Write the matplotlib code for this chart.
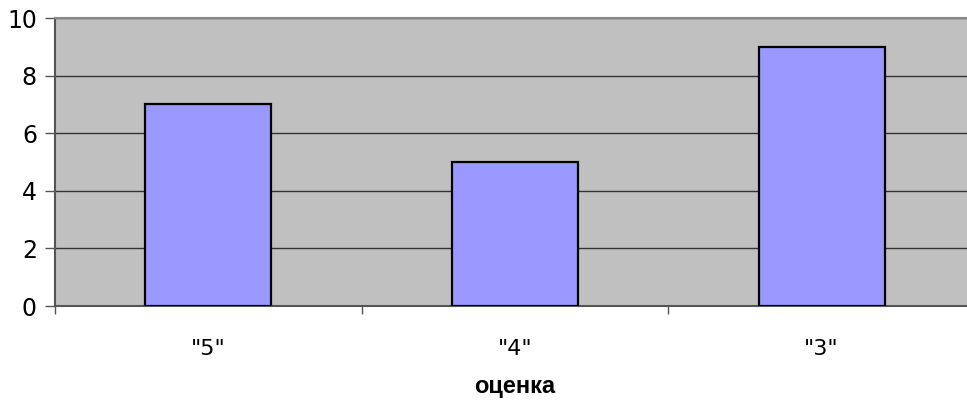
import matplotlib
matplotlib.use("Agg")
import matplotlib.pyplot as plt
import numpy as np

categories = ['"5"', '"4"', '"3"']
counts = [7, 5, 9]
y_ticks = [0, 2, 4, 6, 8, 10]
x_title = "оценка"

fig = plt.figure(figsize=(9.67, 4.04), dpi=100)
# plot area runs past the right edge of the canvas
ax = fig.add_axes([55 / 967, 1 - 306 / 404, 920 / 967, 288 / 404])
ax.set_facecolor("#C0C0C0")

x = np.arange(len(categories))
ax.bar(x, counts, width=0.41, color="#9999FF", edgecolor="black", linewidth=1.6, zorder=3)

ax.set_xlim(-0.5, len(categories) - 0.5)
ax.set_ylim(0, 10)
ax.set_yticks(y_ticks)
ax.set_yticklabels([str(v) for v in y_ticks], fontsize=17, fontfamily="DejaVu Sans")
ax.yaxis.grid(True, color="#333333", linewidth=1.0, zorder=1)
ax.set_axisbelow(True)

# category ticks sit on the boundaries between groups
ax.set_xticks(np.arange(-0.5, len(categories) + 0.5, 1.0))
ax.set_xticklabels([])
ax.set_xticks(x, minor=True)
ax.set_xticklabels(categories, minor=True, fontsize=16, fontfamily="DejaVu Sans")
ax.tick_params(axis="x", which="minor", length=0, pad=24)
ax.tick_params(axis="x", which="major", length=6, width=1, color="#555555")
ax.tick_params(axis="y", length=7, width=1, color="#555555", pad=6)

for side in ["left", "bottom"]:
    ax.spines[side].set_color("#555555")
    ax.spines[side].set_linewidth(1.5)
ax.spines["top"].set_color("#888888")
ax.spines["top"].set_linewidth(1.5)
ax.spines["right"].set_visible(False)

fig.text(515 / 967, 1 - 386 / 404, x_title, ha="center", va="center",
         fontsize=17, fontweight="bold", fontfamily="Liberation Sans")

fig.savefig("out.png", dpi=100)
